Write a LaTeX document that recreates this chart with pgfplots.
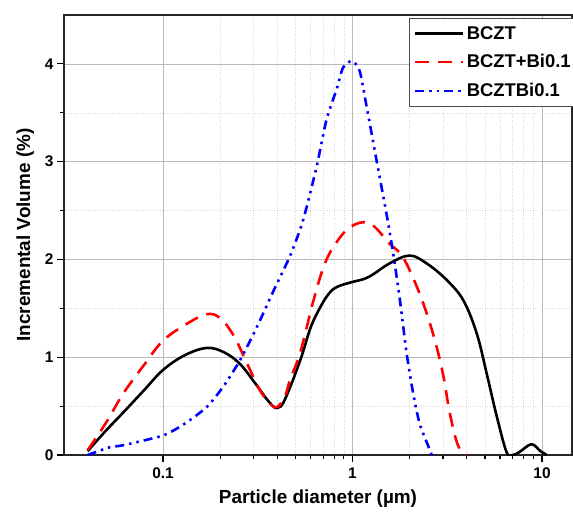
\documentclass[border=0pt]{standalone}
\usepackage{pgfplots}
\pgfplotsset{compat=1.18}
\usepackage{fontspec}
\setmainfont{Liberation Sans}
\begin{document}
\begin{tikzpicture}
\begin{axis}[
  scale only axis,
  width=508bp, height=440bp,
  xmode=log,
  xmin=0.03, xmax=14.4,
  ymin=0, ymax=4.5,
  xtick={0.1,1,10}, xticklabels={0.1,1,10},
  ytick={0,1,2,3,4},
  minor ytick={0.5,1.5,2.5,3.5},
  /pgf/number format/assume math mode=true,
  tick label style={font=\fontsize{15.5}{17}\selectfont\bfseries, text=black},
  xticklabel style={yshift=-2bp},
  tick pos=left, tick align=outside,
  major tick length=7bp, minor tick length=4bp,
  every tick/.style={black, line width=1.2pt},
  grid=both,
  major grid style={gray!55, line width=0.6pt},
  minor grid style={gray!30, dotted, line width=0.5pt},
  axis line style={black!85, line width=1.5pt},
  xlabel={Particle diameter (µm)},
  ylabel={Incremental Volume (\%)},
  label style={font=\fontsize{19}{21}\selectfont\bfseries},
  xlabel style={yshift=-4bp},
  ylabel style={yshift=4bp},
  legend style={at={(1,1)}, anchor=north east, xshift=6bp, yshift=-3bp,
    draw=black!70, line width=0.6pt, fill=white,
    font=\fontsize{18.5}{20}\selectfont\bfseries,
    row sep=10bp, inner xsep=5bp, inner ysep=6bp},
  legend cell align=left,
  legend image code/.code={\draw[#1] (0bp,0bp) -- (48bp,0bp);},
]
\addplot[black, line width=2.6pt, smooth, tension=0.6] coordinates {
(0.040,0.04) (0.05,0.25) (0.062,0.44) (0.08,0.67) (0.1,0.87) (0.13,1.02)
(0.17,1.095) (0.21,1.05) (0.255,0.93) (0.31,0.72) (0.36,0.55) (0.40,0.48)
(0.44,0.57) (0.53,0.97) (0.6,1.3) (0.675,1.51) (0.75,1.65) (0.83,1.72)
(1.0,1.77) (1.15,1.80) (1.29,1.85) (1.57,1.96) (2.0,2.04) (2.46,1.96)
(3.14,1.79) (3.85,1.58) (4.53,1.24) (5.11,0.83) (5.78,0.39) (6.5,0.03)
(7.0,0.0) (7.6,0.03) (8.8,0.11) (9.8,0.04) (10.6,0.0)};
\addlegendentry{BCZT}
\addplot[red, line width=2.6pt, dash pattern=on 14bp off 9bp, smooth, tension=0.6] coordinates {
(0.04,0.05) (0.05,0.33) (0.0617,0.63) (0.08,0.93) (0.1,1.17) (0.133,1.34)
(0.17,1.44) (0.2,1.40) (0.236,1.22) (0.277,0.94) (0.325,0.66) (0.37,0.52)
(0.40,0.49) (0.44,0.6) (0.47,0.78) (0.53,1.05) (0.622,1.58) (0.703,1.92)
(0.794,2.13) (0.97,2.33) (1.23,2.37) (1.57,2.16) (1.85,2.02) (2.26,1.65)
(2.66,1.24) (3.0,0.83) (3.26,0.43) (3.6,0.10) (4.0,0.0)};
\addlegendentry{BCZT+Bi0.1}
\addplot[blue, line width=2.6pt, dash pattern=on 9bp off 5bp on 2.5bp off 5bp on 2.5bp off 5bp, smooth, tension=0.4] coordinates {
(0.04,0.0) (0.0525,0.08) (0.0617,0.10) (0.1,0.2) (0.13,0.32) (0.17,0.49)
(0.208,0.70) (0.255,0.97) (0.313,1.31) (0.383,1.68) (0.469,2.04) (0.548,2.40)
(0.645,2.94) (0.727,3.42) (0.83,3.76) (0.89,3.96) (0.99,4.03) (1.09,3.93)
(1.19,3.55) (1.34,3.01) (1.51,2.47) (1.64,2.06) (1.78,1.58) (1.93,1.04)
(2.09,0.63) (2.26,0.32) (2.5,0.10) (2.62,0.0)};
\addlegendentry{BCZTBi0.1}
\end{axis}
\pgfresetboundingbox
\path (-64bp,-57bp) rectangle (509bp,455bp);
\end{tikzpicture}
\end{document}
